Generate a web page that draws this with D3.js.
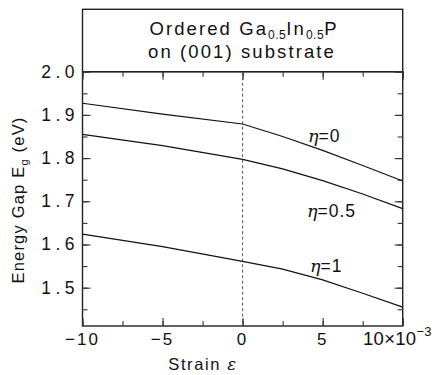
<!DOCTYPE html>
<html><head><meta charset="utf-8">
<script src="https://cdn.jsdelivr.net/npm/d3@7"></script>
<style>
body{margin:0;background:#fff;}
text{font-family:"Liberation Sans","DejaVu Sans",sans-serif;fill:#111;}
</style></head>
<body><svg id="c" width="440" height="375"></svg>
<script>
const strain = [-10, -5, 0, 2.5, 5, 7.5, 10];
const eta0   = [1.927, 1.902, 1.879, 1.850, 1.818, 1.783, 1.747];
const eta05  = [1.855, 1.829, 1.797, 1.775, 1.748, 1.717, 1.683];
const eta1   = [1.624, 1.595, 1.561, 1.543, 1.518, 1.487, 1.455];
const seriesLabels = ["η=0", "η=0.5", "η=1"];
const xTicks = [-10, -5, 0, 5, 10];
const yTicks = [1.5, 1.6, 1.7, 1.8, 1.9, 2.0];

const svg = d3.select("#c");
const L = 82.5, R = 402.7, T = 71.7, B = 326, TT = 9.3;
const x = d3.scaleLinear().domain([-10, 10]).range([L, R]);
const y = d3.scaleLinear().domain([1.4113, 2.0]).range([B, T]);

// title box
svg.append("rect").attr("x", L).attr("y", TT).attr("width", R - L).attr("height", T - TT)
  .attr("fill", "none").attr("stroke", "#222").attr("stroke-width", 1.4);
const t1 = svg.append("text").attr("x", 244).attr("y", 34.5).attr("text-anchor", "middle")
  .attr("font-size", 18.5).attr("letter-spacing", 2.1);
t1.append("tspan").text("Ordered Ga");
t1.append("tspan").attr("font-size", 12).attr("dy", 4).attr("letter-spacing", 0.5).text("0.5");
t1.append("tspan").attr("dy", -4).text("In");
t1.append("tspan").attr("font-size", 12).attr("dy", 4).attr("letter-spacing", 0.5).text("0.5");
t1.append("tspan").attr("dy", -4).text("P");
svg.append("text").attr("x", 242).attr("y", 58).attr("text-anchor", "middle")
  .attr("font-size", 18.5).attr("letter-spacing", 2.1).text("on (001) substrate");

// plot frame
svg.append("rect").attr("x", L).attr("y", T).attr("width", R - L).attr("height", B - T)
  .attr("fill", "none").attr("stroke", "#222").attr("stroke-width", 1.4);

// ticks via axes (inward)
const xMinor = d3.range(-10, 10.01, 2.5);
const yMinor = d3.range(1.45, 2.001, 0.05).map(v => +v.toFixed(2));
function tickAxis(axisFn, scale, vals, size, tr) {
  const g = svg.append("g").attr("transform", tr)
    .call(axisFn(scale).tickValues(vals).tickSize(size).tickFormat(""));
  g.select(".domain").remove();
  g.selectAll("line").attr("stroke", "#333").attr("stroke-width", 1.1);
}
tickAxis(d3.axisTop, x, xMinor, 5, `translate(0,${B})`);
tickAxis(d3.axisTop, x, xTicks, 8, `translate(0,${B})`);
tickAxis(d3.axisBottom, x, xMinor, 5, `translate(0,${T})`);
tickAxis(d3.axisBottom, x, xTicks, 8, `translate(0,${T})`);
tickAxis(d3.axisRight, y, yMinor, 5, `translate(${L},0)`);
tickAxis(d3.axisRight, y, yTicks, 8, `translate(${L},0)`);
tickAxis(d3.axisLeft, y, yMinor, 5, `translate(${R},0)`);
tickAxis(d3.axisLeft, y, yTicks, 8, `translate(${R},0)`);

// tick labels
const yl = svg.append("g");
yTicks.forEach(v => {
  yl.append("text").attr("x", 79).attr("y", y(v) + 6).attr("text-anchor", "end")
    .attr("font-size", 17.5).attr("letter-spacing", 4.5).text(v.toFixed(1));
});
const xLabY = 345;
xTicks.forEach(v => {
  if (v === 10) {
    const t = svg.append("text").attr("x", 363).attr("y", xLabY).attr("font-size", 18.5)
      .attr("font-family", "Liberation Serif").attr("letter-spacing", 0.3);
    t.append("tspan").text("10×10");
    t.append("tspan").attr("font-size", 13).attr("dy", -9).text("−3");
  } else {
    svg.append("text").attr("x", x(v)).attr("y", xLabY).attr("text-anchor", "middle")
      .attr("font-size", 17).attr("letter-spacing", 2).text(v < 0 ? "−" + Math.abs(v) : v);
  }
});

// axis titles
const st = svg.append("text").attr("x", 203).attr("y", 369.5).attr("text-anchor", "middle")
  .attr("font-size", 16.5).attr("letter-spacing", 1.6);
st.append("tspan").text("Strain  ");
st.append("tspan").attr("font-family", "DejaVu Serif").attr("font-style", "italic").text("ε");
const yt = svg.append("text").attr("transform", "translate(24,200) rotate(-90)")
  .attr("text-anchor", "middle").attr("font-size", 16.5).attr("letter-spacing", 1.2);
yt.append("tspan").text("Energy Gap E");
yt.append("tspan").attr("font-size", 11).attr("dy", 4).text("g");
yt.append("tspan").attr("dy", -4).text(" (eV)");

// dashed line at zero
svg.append("line").attr("x1", x(0)).attr("x2", x(0)).attr("y1", T).attr("y2", B)
  .attr("stroke", "#555").attr("stroke-width", 1).attr("stroke-dasharray", "3,2.5");

// curves
const line = d3.line().x((d, i) => x(strain[i])).y(d => y(d));
[eta0, eta05, eta1].forEach(s => {
  svg.append("path").attr("d", line(s)).attr("fill", "none")
    .attr("stroke", "#111").attr("stroke-width", 1.2);
});

// labels
const labPos = [[308, 142], [307, 217], [310, 272]];
seriesLabels.forEach((s, i) => {
  const t = svg.append("text").attr("x", labPos[i][0]).attr("y", labPos[i][1]).attr("font-size", 17.5);
  t.append("tspan").attr("font-style", "italic").attr("font-family", "DejaVu Serif").text(s[0]);
  t.append("tspan").attr("letter-spacing", 1).text(s.slice(1));
});
</script></body></html>
